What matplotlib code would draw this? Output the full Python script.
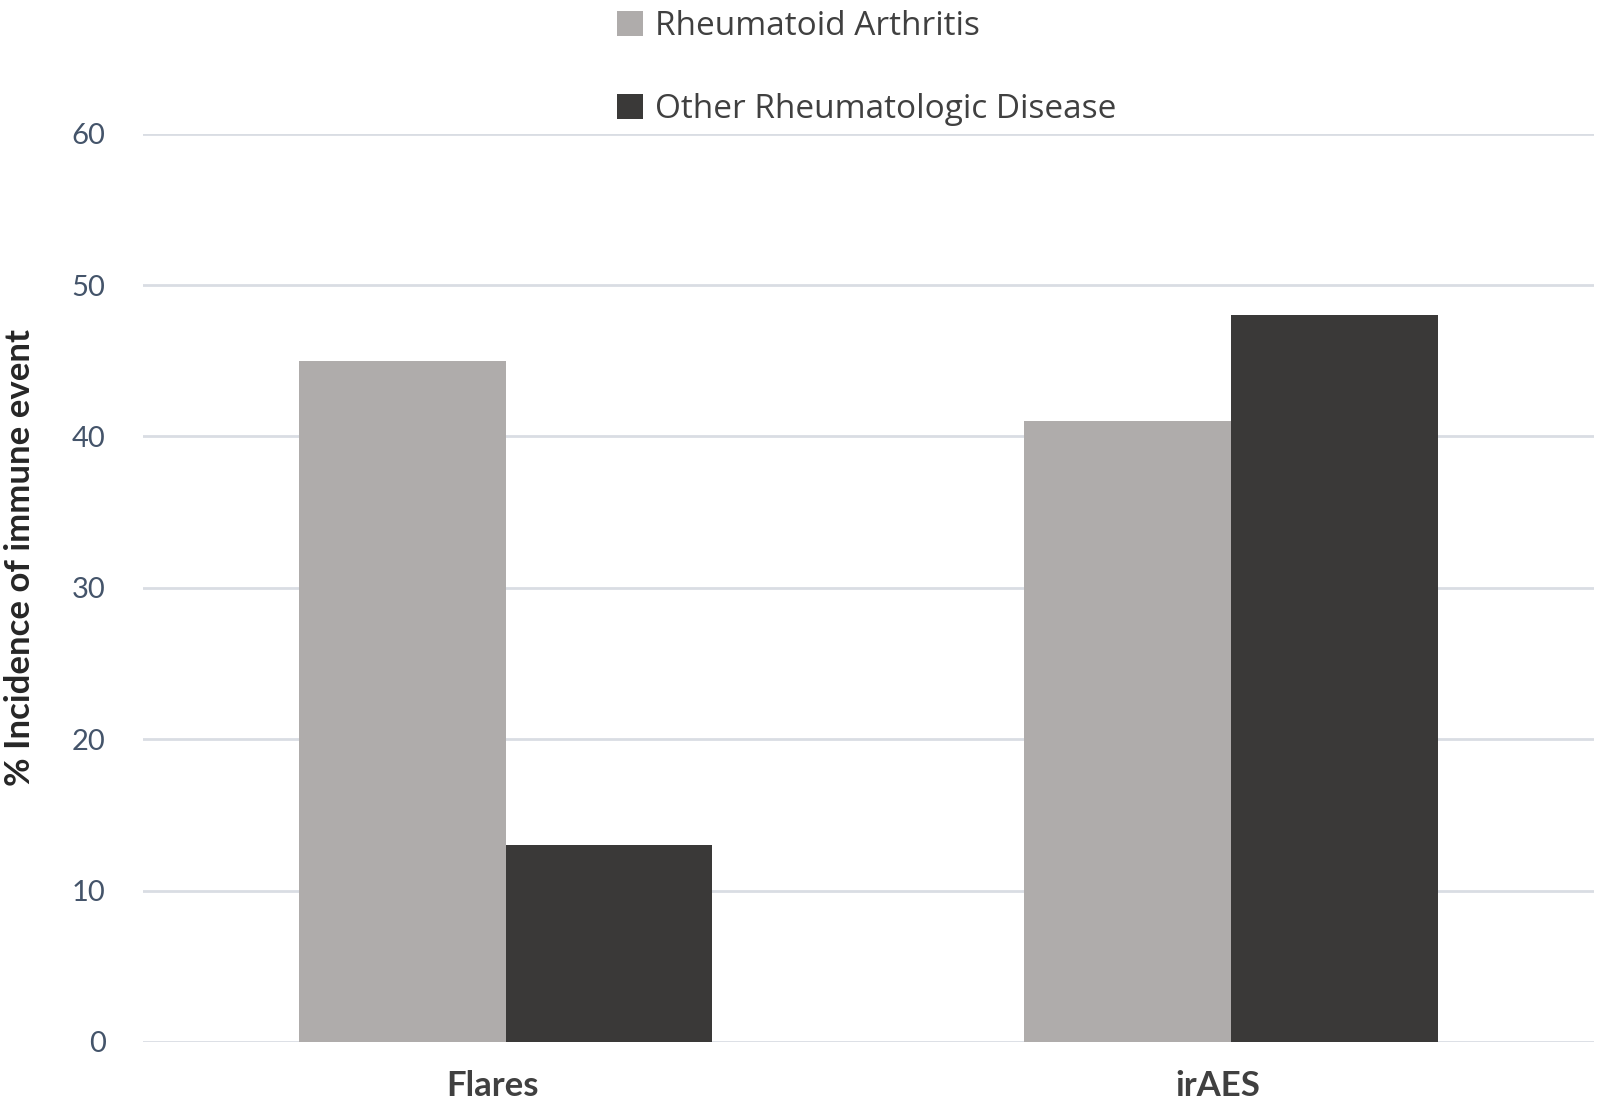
import matplotlib.pyplot as plt
import matplotlib.transforms as mtransforms
from matplotlib.patches import Patch
import numpy as np

plt.rcParams['font.family'] = ['Lato', 'DejaVu Sans']

categories = ["Flares", "irAES"]
series_names = ["Rheumatoid Arthritis", "Other Rheumatologic Disease"]
ra_values = [45, 41]
other_values = [13, 48]
y_ticks = [0, 10, 20, 30, 40, 50, 60]

colors = ["#AFACAB", "#3A3938"]
grid_color = "#D9DDE3"
tick_color = "#44546A"

fig = plt.figure(figsize=(16, 11.04), dpi=100)
ax = fig.add_axes([0.0894, 0.0562, 0.9066, 0.8227])

x = np.arange(len(categories))
w = 0.285
ax.bar(x - w / 2, ra_values, w, color=colors[0], zorder=3)
ax.bar(x + w / 2, other_values, w, color=colors[1], zorder=3)

ax.set_xlim(-0.5, 1.5)
ax.set_ylim(0, 60)
ax.set_yticks(y_ticks)
ax.set_yticklabels([str(t) for t in y_ticks], fontsize=21, color=tick_color)
ax.set_xticks(x)
ax.set_xticklabels(categories, fontsize=25, fontweight="bold", color="#404040")
ax.tick_params(axis="y", length=0, pad=27)
ax.tick_params(axis="x", length=0, pad=20)
# labels sit a little left of the group centre in the original
shift = mtransforms.ScaledTranslation(-13 / 100, 0, fig.dpi_scale_trans)
for lab in ax.get_xticklabels():
    lab.set_transform(lab.get_transform() + shift)
ax.yaxis.grid(True, color=grid_color, linewidth=2, zorder=0)
for s in ax.spines.values():
    s.set_visible(False)

fig.text(0.0125, 0.495, "% Incidence of immune event", rotation=90,
         ha="center", va="center", fontsize=25, fontweight="bold", color="#262626")

handles = [Patch(facecolor=c, edgecolor="none") for c in colors]
fig.legend(handles, series_names, loc="upper left", bbox_to_anchor=(0.3856, 0.991),
           frameon=False, prop={"family": "Open Sans", "size": 24},
           handlelength=0.78, handleheight=0.78,
           handletextpad=0.37, labelspacing=1.5, borderpad=0, borderaxespad=0,
           labelcolor="#404040")

fig.savefig("out.png", dpi=100)
